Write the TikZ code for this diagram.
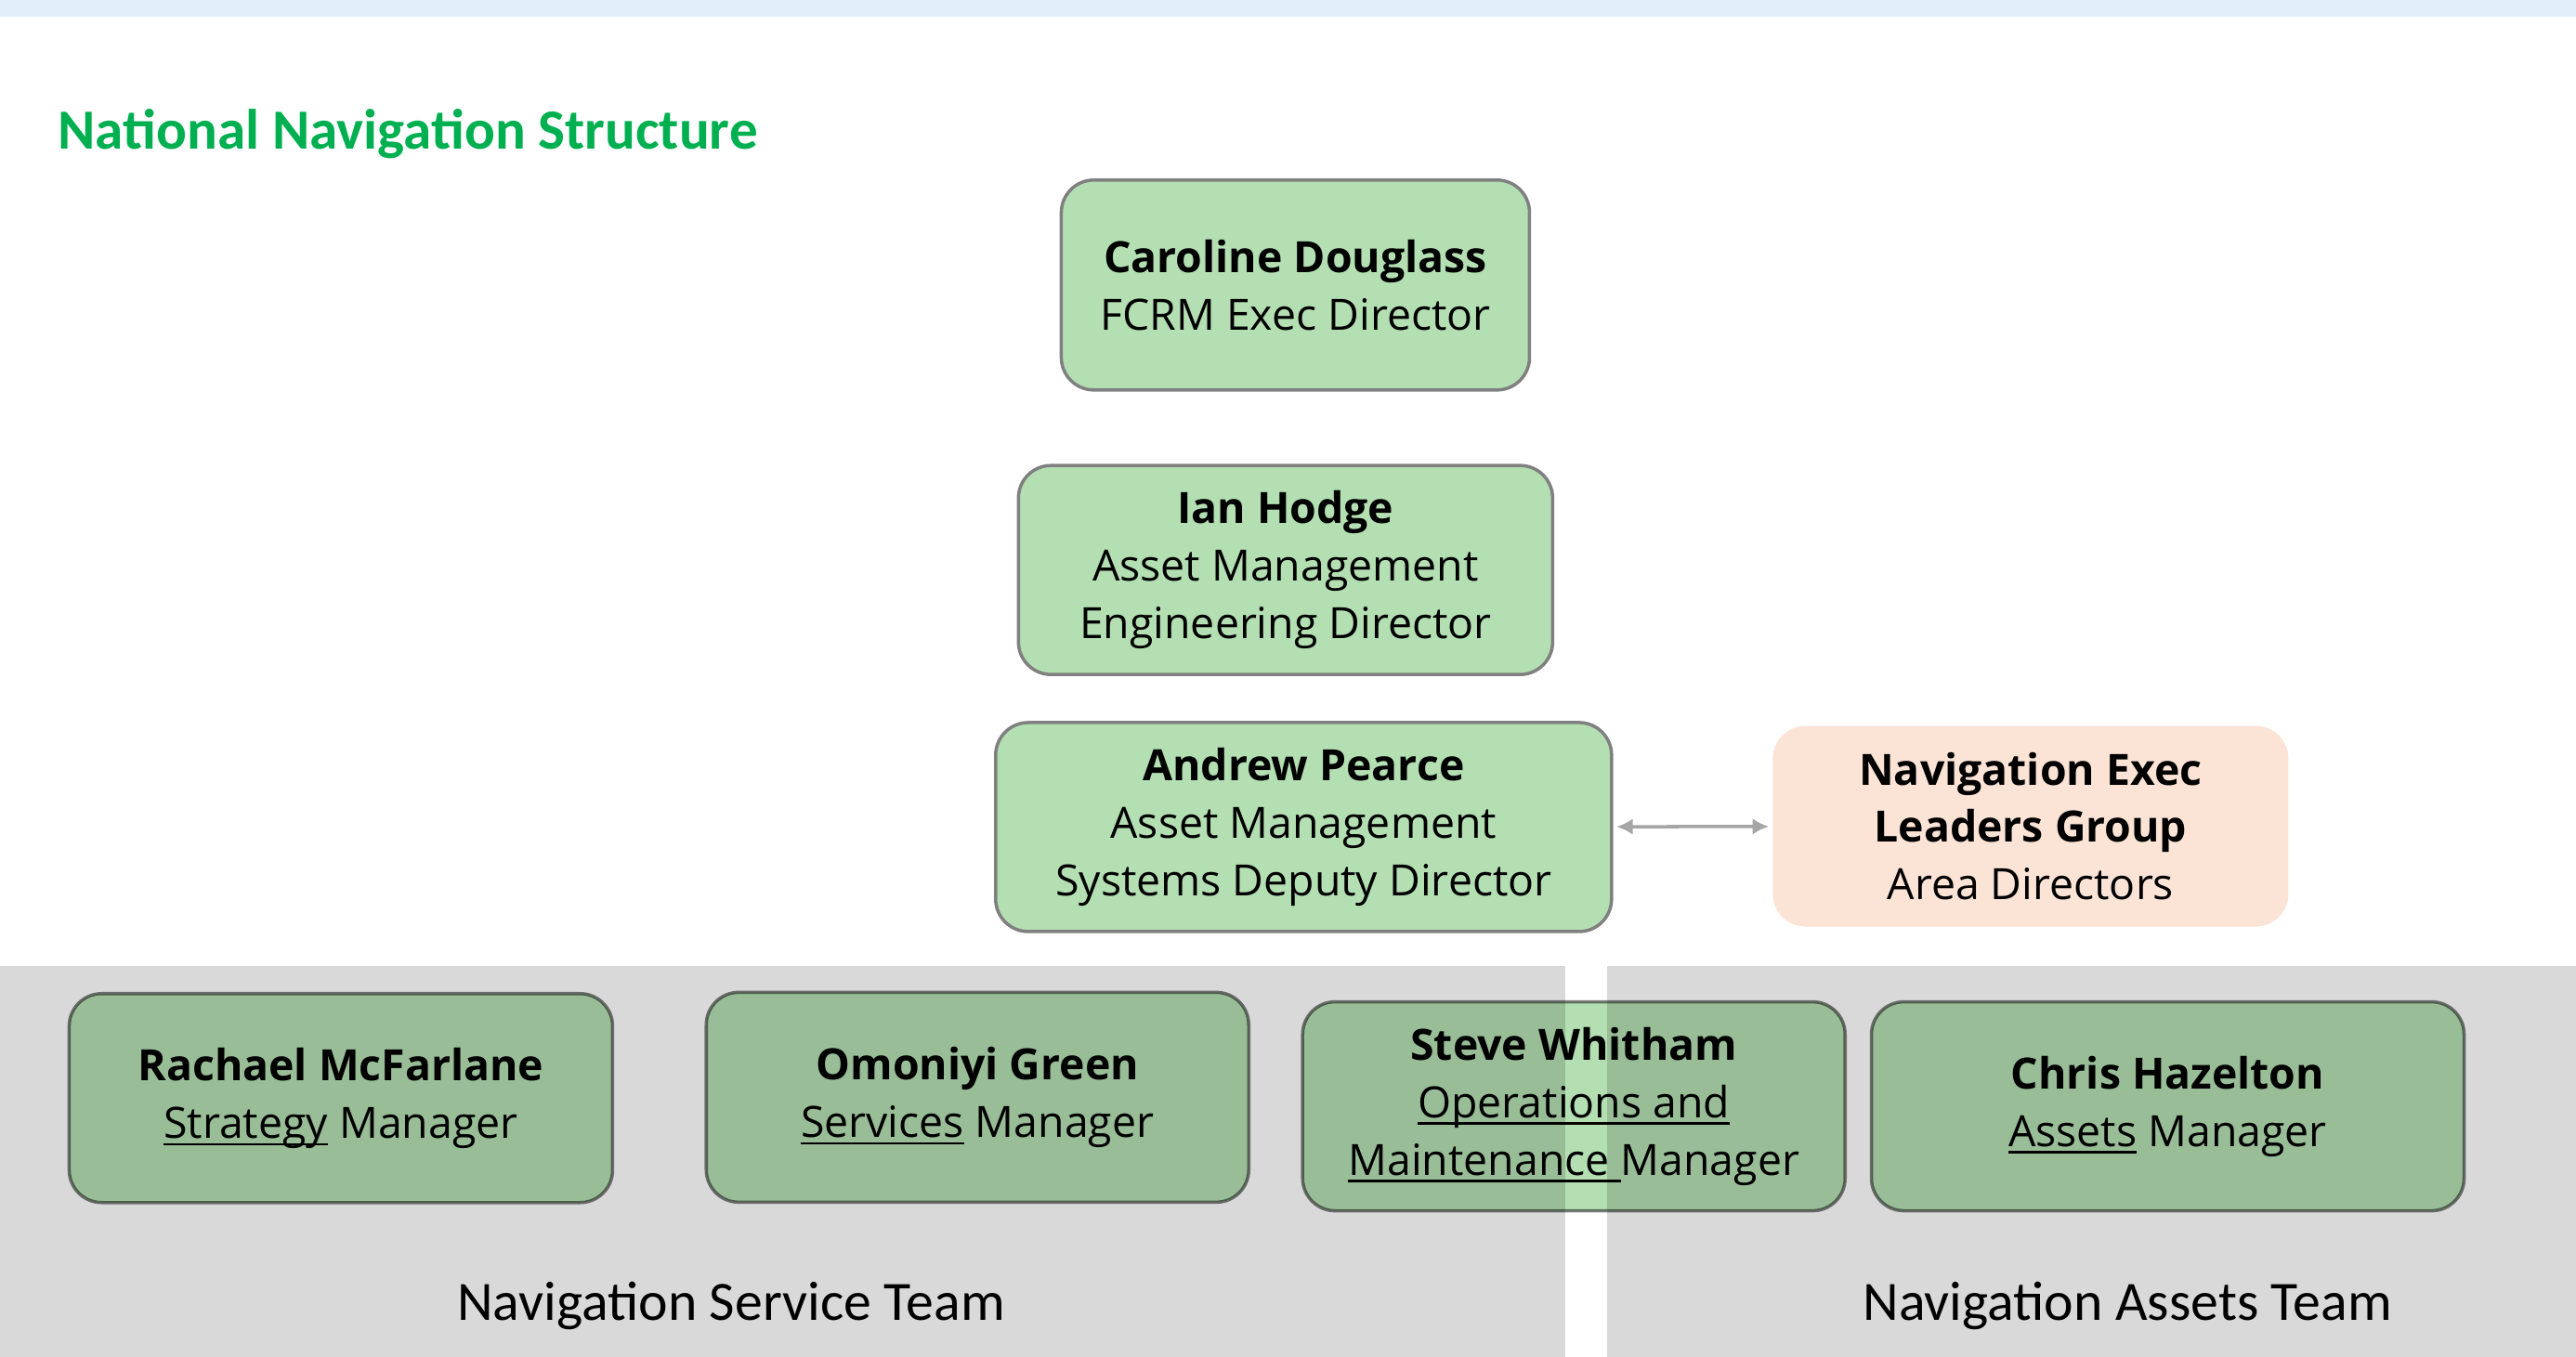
\documentclass[tikz,border=0pt]{standalone}
\usepackage{fontspec}
\setmainfont{Open Sans}
\newfontfamily\narrowfont{Carlito}
\usetikzlibrary{arrows.meta}
\definecolor{boxgreen}{HTML}{B3DFB2}
\definecolor{boxline}{HTML}{808080}
\definecolor{execpeach}{HTML}{FBE3D6}
\definecolor{titlegreen}{HTML}{00B050}
\definecolor{bandgrey}{HTML}{D9D9D9}
\definecolor{topblue}{HTML}{E2EFF9}
\definecolor{arrowgrey}{HTML}{A6A6A6}
\newsavebox{\ulbox}
\newcommand{\ulword}[1]{\sbox{\ulbox}{#1}\rlap{\rule[-2.2pt]{\wd\ulbox}{0.7pt}}\usebox{\ulbox}}

\begin{document}
\begin{tikzpicture}[x=0.017685cm,y=-0.017685cm,
    every node/.style={align=center,font=\fontsize{13.2}{17.6}\selectfont},
    person/.style={draw=boxline,fill=boxgreen,line width=1pt,rounded corners=0.35cm,inner sep=0pt},
    teamperson/.style={person,blend mode=multiply},
    group/.style={fill=execpeach,rounded corners=0.35cm,inner sep=0pt},
    teamlabel/.style={anchor=base,font=\narrowfont\fontsize{17}{20}\selectfont}]
  \useasboundingbox (0,0) rectangle (1568,826);
  \fill[topblue] (0,0) rectangle (1568,10);
  \fill[bandgrey] (0,588) rectangle (953,826);
  \fill[bandgrey] (978,588) rectangle (1568,826);
  \node[anchor=base west,inner sep=0pt,text=titlegreen,font=\narrowfont\bfseries\fontsize{17.4}{20}\selectfont]
    (title) at (35,91) {National Navigation Structure};
  \draw
    (788.5,173.5) node[person,minimum width=5.04cm,minimum height=2.26cm] (douglass)
      {\textbf{Caroline Douglass}\\FCRM Exec Director}
    (782.5,347) node[person,minimum width=5.75cm,minimum height=2.25cm] (hodge)
      {\textbf{Ian Hodge}\\Asset Management\\Engineering Director}
    (793.5,503.5) node[person,minimum width=6.63cm,minimum height=2.25cm] (pearce)
      {\textbf{Andrew Pearce}\\Asset Management\\Systems Deputy Director}
    (1236,503) node[group,minimum width=5.55cm,minimum height=2.16cm] (leaders)
      {\textbf{Navigation Exec}\\\textbf{Leaders Group}\\Area Directors};
  \draw
    (207.5,668.5) node[teamperson,minimum width=5.85cm,minimum height=2.25cm] (mcfarlane)
      {\textbf{Rachael McFarlane}\\\ulword{Strategy} Manager}
    (595,668) node[teamperson,minimum width=5.84cm,minimum height=2.26cm] (green)
      {\textbf{Omoniyi Green}\\\ulword{Services} Manager}
    (958,673.5) node[teamperson,minimum width=5.84cm,minimum height=2.25cm] (whitham)
      {\textbf{Steve Whitham}\\\ulword{Operations and}\\\ulword{Maintenance\ }Manager}
    (1319.5,673.5) node[teamperson,minimum width=6.38cm,minimum height=2.25cm] (hazelton)
      {\textbf{Chris Hazelton}\\\ulword{Assets} Manager};
  \draw[arrowgrey,line width=1pt,{Latex[length=5pt,width=5pt]}-{Latex[length=5pt,width=5pt]},
    shorten <=1pt,shorten >=1pt] (pearce) -- (leaders);
  \node[teamlabel] (servicelabel) at (445,804) {Navigation Service Team};
  \node[teamlabel] (assetslabel) at (1295,804) {Navigation Assets Team};
\end{tikzpicture}
\end{document}
